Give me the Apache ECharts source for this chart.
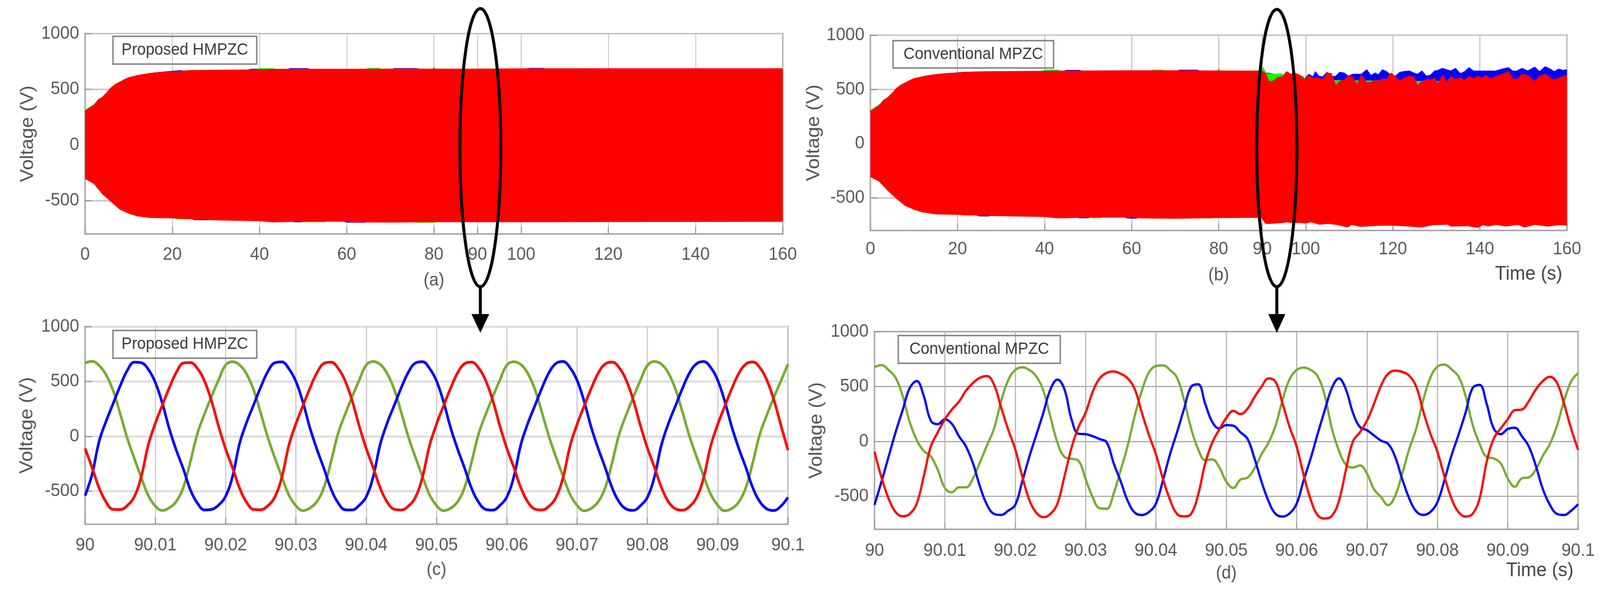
<!DOCTYPE html>
<html>
<head>
<meta charset="utf-8">
<style>html,body{margin:0;padding:0;background:#fff;overflow:hidden}#chart{width:4307px;height:1536px;transform-origin:0 0}</style>
<script src="https://cdn.jsdelivr.net/npm/echarts@6/dist/echarts.min.js"></script>
</head>
<body>
<div id="chart"></div>
<script>
// ---- tick labels ----
const yTicks = [-500, 0, 500, 1000];
const xTicksA = [0, 20, 40, 60, 80, 90, 100, 120, 140, 160];
const xTicksC = [90, 90.01, 90.02, 90.03, 90.04, 90.05, 90.06, 90.07, 90.08, 90.09, 90.1];

// ---- panel (a): envelopes of the three phases, 0..160 s ----
const aUpperT = [0,1,2,3,4,5,6,7,8,9,10,12,14,16,18,20,22,24,26,28,30,34,38,40,44,50,60,70,80,90,100,120,140,160];
const aUpperRed = [304,330,355,405,430,470,515,545,565,587,605,624,638,648,653,657,663,668,669,670,671,673,675,677,680,681,680,682,682,682,684,685,685,685];
const aUpperBlueT = [0,16,17,22,23,37,38,40,41,46,47,51,52,70,71,76,77,100,102,105,106,160];
const aUpperBlue = [300,640,652,668,660,670,680,682,672,672,686,686,675,675,686,686,678,680,688,688,680,680];
const aUpperGreenT = [0,2,3,39,40,43,44,64,65,67.5,68,79.7,80,80.3,81,160];
const aUpperGreen = [310,362,395,670,686,686,675,675,688,688,675,675,700,675,675,680];
const aLowerT = [0,2,4,6,8,10,12,15,20,25,30,40,43,50,60,62,70,80,90,100,160];
const aLowerRed = [-302,-345,-440,-510,-578,-613,-639,-653,-656,-665,-674,-682,-692,-686,-686,-692,-694,-690,-690,-690,-687];
const aLowerBlueT = [0,24,25,28,29,47,48,50,51,59,60,64,65,160];
const aLowerBlue = [-290,-655,-671,-674,-665,-680,-691,-691,-680,-680,-694,-696,-685,-680];
const aLowerGreenT = [0,20,21,23,24,49,50,55,56,75,76,80,81,160];
const aLowerGreen = [-290,-650,-664,-666,-660,-680,-691,-691,-680,-680,-696,-696,-685,-680];

// ---- panel (b): envelopes, 0..160 s ----
const bUpperT = [0,1,2,3,4,5,6,7,8,9,10,12,14,16,18,20,22,24,26,28,30,35,40,44,50,60,70,80,89.8,
  90.2,90.9,91.5,92.4,93.6,94.6,95.6,96.6,97.8,99,
  99.8,100.7,101.7,102.2,103,103.9,104.9,105.9,106.9,107.8,108.8,109.8,110.8,111.8,112.8,114,115,115.9,116.7,117.6,118.6,119.6,120.6,121.6,122.5,123.8,124.8,125.7,126.7,127.7,128.7,129.6,130.4,131.4,132.3,133.3,134.4,135.5,136.5,137.5,138.5,139.5,140.4,141.4,142.4,143.6,145.1,146.6,147.5,148.5,149.7,151,152.6,153.7,155,156.1,157.1,158.1,159.1,160];
const bUpperRed = [300,325,350,400,425,465,510,540,560,582,600,618,632,642,648,652,658,662,663,664,664,666,668,670,671,672,672,671,670,
  664,640,574,574,610,616,664,640,646,622,
  586,628,604,610,604,586,652,646,538,574,586,622,616,544,634,562,568,586,574,598,592,652,616,574,604,622,616,538,574,592,586,604,550,634,568,616,592,610,580,622,598,622,604,628,598,616,640,664,598,592,640,628,574,622,640,610,586,604,622,628];
const bUpperBlueT = [0,16,17,22,23,44,45,48,49,70,71,75,76,89.8,95,99,
  99.8,100.7,101.7,102.2,103,103.9,104.9,105.9,106.9,107.8,108.8,109.8,110.8,111.8,112.8,114,115,115.9,116.7,117.6,118.6,119.6,120.6,121.6,122.5,123.8,124.8,125.7,126.7,127.7,128.7,129.6,130.4,131.4,132.3,133.3,134.4,135.5,136.5,137.5,138.5,139.5,140.4,141.4,142.4,143.6,145.1,146.6,147.5,148.5,149.7,151,152.6,153.7,155,156.1,157.1,158.1,159.1,160];
const bUpperBlue = [290,632,644,660,655,662,676,676,665,665,678,678,665,660,625,600,
  598,640,616,664,622,616,658,616,622,658,652,622,640,640,640,682,628,652,634,682,664,628,622,658,664,670,652,640,670,622,634,670,676,694,682,670,694,646,664,700,670,670,670,670,670,670,688,700,670,670,694,670,706,664,710,688,664,688,676,682];
const bUpperGreenT = [0,2,3,39,40,43,44,64,65,67,68,79.7,80,80.3,89.8,90,90.2,90.9,91.4,94.6,95,99,99.4,99.8,160];
const bUpperGreen = [305,358,390,660,678,678,665,665,678,678,665,665,690,665,668,672,701,650,642,642,600,590,625,585,560];
const bLowerT = [0,2,4,6,8,10,12,15,20,25,30,40,43,50,60,62,70,80,89.8,90.7,91.4,94.9,95.4,96.8,99,99.8,101.2,103.2,105.2,107.1,109.6,110.5,112.5,116.4,119.4,122.3,126.7,129.2,132.6,133.3,137,139.5,140.7,141.9,143.9,145.8,148.8,150.2,152.7,155.6,158.1,160];
const bLowerRed = [-305,-345,-430,-505,-570,-605,-630,-648,-652,-660,-665,-672,-685,-678,-678,-685,-688,-682,-679,-733,-737,-727,-721,-727,-727,-733,-721,-743,-735,-745,-769,-745,-763,-754,-751,-757,-769,-748,-743,-760,-757,-772,-748,-760,-745,-760,-745,-769,-745,-760,-748,-751];
const bLowerBlueT = [0,24,25,27,28,47,48,50,51,58,59,61,62,89.8];
const bLowerBlue = [-290,-655,-666,-668,-660,-672,-684,-684,-672,-672,-686,-688,-678,-670];
const bLowerGreenT = [0,20,21,23,24,50,51,53,54,74,75,78,79,89.8];
const bLowerGreen = [-290,-645,-658,-660,-655,-672,-684,-684,-672,-672,-686,-686,-676,-670];

// ---- panel (c): phase voltages every 1 ms from 90 s ----
const cBlue = [-540,-345,-45,140,300,460,600,675,670,610,490,300,65,-130,-300,-490,-610,-670,-665,-625,
 -545,-360,-60,130,290,450,590,670,678,615,500,310,75,-120,-295,-480,-605,-668,-670,-628,
 -550,-365,-70,125,285,445,585,668,680,620,505,315,80,-115,-290,-475,-600,-665,-672,-630,
 -552,-368,-75,120,280,440,580,665,682,625,510,320,85,-110,-285,-470,-598,-662,-674,-632,
 -555,-370,-78,118,278,438,578,662,682,628,512,322,88,-108,-282,-468,-595,-660,-675,-635,-555];
const cGreen = [668,683,645,560,415,205,-15,-200,-375,-540,-635,-675,-650,-590,-460,-225,30,205,365,515,
 650,680,650,565,420,210,-10,-195,-370,-535,-632,-676,-652,-592,-462,-228,28,202,362,512,
 650,682,655,570,425,215,-5,-190,-365,-530,-630,-676,-655,-595,-465,-232,25,200,360,510,
 648,680,655,572,428,218,-2,-188,-362,-528,-628,-678,-656,-596,-468,-235,22,198,358,508,
 646,682,658,575,430,220,0,-185,-360,-525,-626,-678,-658,-598,-470,-238,20,195,355,505,658];
const cRed = [-110,-285,-470,-600,-665,-667,-630,-550,-365,-75,120,285,445,585,668,672,617,502,320,90,
 -115,-290,-475,-602,-666,-668,-632,-552,-370,-80,115,280,440,580,665,675,620,505,325,95,
 -110,-285,-470,-600,-664,-670,-635,-555,-372,-85,112,278,438,578,662,676,622,508,328,98,
 -108,-282,-468,-598,-662,-670,-636,-556,-375,-88,110,275,435,575,660,676,624,510,330,100,
 -105,-280,-465,-596,-660,-672,-638,-558,-378,-90,108,272,432,572,658,678,626,512,332,102,-125];

// ---- panel (d): phase voltages every 1 ms from 90 s ----
const dBlue = [-578,-365,-140,84,285,486,550,415,190,157,202,160,48,-46,-200,-412,-578,-660,-669,-631,
 -578,-365,-140,60,261,474,563,474,202,70,66,48,22,-8,-200,-365,-543,-649,-670,-643,
 -566,-353,-117,84,297,498,521,344,178,119,149,143,84,25,-152,-365,-543,-660,-684,-655,
 -566,-353,-152,72,285,486,574,474,261,131,102,54,7,-22,-141,-342,-519,-637,-669,-643,
 -554,-353,-129,60,261,486,515,344,119,66,113,125,48,-46,-223,-436,-578,-660,-670,-631,-572];
const dRed = [-93,-330,-519,-643,-682,-660,-566,-318,-46,84,202,291,362,462,533,580,595,515,309,108,
 -70,-318,-531,-649,-690,-660,-566,-318,-58,131,261,450,574,625,637,616,574,474,261,60,
 -117,-342,-531,-660,-682,-660,-484,-200,-11,108,214,279,249,297,403,498,574,544,344,131,
 -46,-306,-531,-673,-702,-679,-543,-259,1,84,190,344,509,616,645,634,598,498,273,72,
 -93,-318,-519,-643,-684,-660,-519,-188,25,119,202,285,291,368,474,551,589,533,344,119,-76];
const dGreen = [677,695,651,580,415,178,13,-87,-135,-259,-424,-463,-418,-418,-336,-188,-34,119,368,557,
 651,675,651,592,462,226,-11,-141,-158,-176,-342,-507,-608,-613,-472,-259,-34,238,462,628,
 687,693,651,580,379,119,-70,-170,-164,-235,-365,-424,-348,-330,-247,-117,-11,143,379,568,
 651,673,651,592,415,119,-82,-212,-238,-218,-294,-436,-507,-580,-495,-294,-70,119,379,580,
 681,699,657,592,415,155,-22,-141,-155,-200,-336,-413,-336,-327,-253,-129,-22,143,368,545,622];

// ---- series colours ----
const RED = '#ff0000', BLUE = '#0000ff', ENV_GREEN = '#00ff00', WAVE_GREEN = '#77ac30';
const FONT = '"Liberation Sans", Arial, sans-serif';
const msTime = i => 90 + i / 1000;

function zip(ts, vs) { return ts.map((t, i) => [t, vs[i]]); }
function wave(vs) { return vs.map((v, i) => [msTime(i), v]); }

const panels = [
  { left: 229,  top: 86,  width: 1878, height: 513, min: 0,  max: 160, ticks: xTicksA, name: '(a)', gap: 96,  lm: 30, yGap: 129, hLine: '#c8c8c8', hW: 4, vLine: '#bdbdbd', vW: 2 },
  { left: 2343, top: 90,  width: 1875, height: 500, min: 0,  max: 160, ticks: xTicksA, name: '(b)', gap: 92,  lm: 25, yGap: 127, hLine: '#c8c8c8', hW: 4, vLine: '#c4c4c4', vW: 3 },
  { left: 229,  top: 836, width: 1892, height: 506, min: 90, max: 90.1, ticks: xTicksC, name: '(c)', gap: 94, lm: 31, yGap: 131, hLine: '#dcdcdc', hW: 5, vLine: '#c8c8c8', vW: 3 },
  { left: 2354, top: 849, width: 1894, height: 506, min: 90, max: 90.1, ticks: xTicksC, name: '(d)', gap: 90, lm: 32, yGap: 131, hLine: '#ababab', hW: 3, vLine: '#b4b4b4', vW: 3 }
];

const grid = panels.map(p => ({
  left: p.left, top: p.top, width: p.width, height: p.height,
  show: true, backgroundColor: '#fff', borderColor: '#a8a8a8', borderWidth: 4
}));
const xAxis = panels.map((p, i) => ({
  type: 'value', gridIndex: i, min: p.min, max: p.max,
  name: p.name, nameLocation: 'middle', nameGap: p.gap, nameMoveOverlap: false,
  nameTextStyle: { fontFamily: FONT, fontSize: 46, color: '#555' },
  axisLine: { show: true, onZero: false, lineStyle: { color: '#a8a8a8', width: 4 } },
  axisTick: { show: true, inside: true, length: 18, customValues: p.ticks, lineStyle: { color: '#999', width: 3 } },
  splitLine: { show: true, lineStyle: { color: p.vLine, width: p.vW } },
  axisLabel: { show: true, customValues: p.ticks, margin: p.lm, hideOverlap: false, showMinLabel: true, showMaxLabel: true,
    fontFamily: FONT, fontSize: 46, color: '#5a5a5a',
    formatter: v => String(+(+v).toFixed(2)) }
}));
const yAxis = panels.map((p, i) => ({
  type: 'value', gridIndex: i, min: -800, max: 1000,
  name: 'Voltage (V)', nameLocation: 'middle', nameGap: p.yGap, nameRotate: 90, nameMoveOverlap: false,
  nameTextStyle: { fontFamily: FONT, fontSize: 50, color: '#555' },
  axisLine: { show: true, lineStyle: { color: '#a8a8a8', width: 4 } },
  axisTick: { show: true, inside: true, length: 18, customValues: yTicks, lineStyle: { color: '#999', width: 3 } },
  splitLine: { show: true, lineStyle: { color: p.hLine, width: p.hW } },
  axisLabel: { show: true, customValues: yTicks, margin: 16, fontFamily: FONT, fontSize: 46, color: '#5a5a5a',
    formatter: v => String(v) }
}));

function band(idx, color, data, z) {
  return { type: 'line', xAxisIndex: idx, yAxisIndex: idx, data, showSymbol: false, z,
    lineStyle: { color, width: 2 }, itemStyle: { color },
    areaStyle: { color, opacity: 1, origin: 0 }, silent: true };
}
function curve(idx, color, data, z, w) {
  return { type: 'line', xAxisIndex: idx, yAxisIndex: idx, data, showSymbol: false, z, smooth: 0.4,
    lineStyle: { color, width: w }, itemStyle: { color }, silent: true };
}
const series = [
  band(0, BLUE, zip(aUpperBlueT, aUpperBlue), 2),
  band(0, BLUE, zip(aLowerBlueT, aLowerBlue), 2),
  band(0, ENV_GREEN, zip(aUpperGreenT, aUpperGreen), 3),
  band(0, ENV_GREEN, zip(aLowerGreenT, aLowerGreen), 3),
  band(0, RED, zip(aUpperT, aUpperRed), 4),
  band(0, RED, zip(aLowerT, aLowerRed), 4),
  band(1, BLUE, zip(bUpperBlueT, bUpperBlue), 2),
  band(1, BLUE, zip(bLowerBlueT, bLowerBlue), 2),
  band(1, ENV_GREEN, zip(bUpperGreenT, bUpperGreen), 3),
  band(1, ENV_GREEN, zip(bLowerGreenT, bLowerGreen), 3),
  band(1, RED, zip(bUpperT, bUpperRed), 4),
  band(1, RED, zip(bLowerT, bLowerRed), 4),
  curve(2, WAVE_GREEN, wave(cGreen), 2, 7),
  curve(2, BLUE, wave(cBlue), 3, 7),
  curve(2, RED, wave(cRed), 4, 7),
  curve(3, WAVE_GREEN, wave(dGreen), 2, 6),
  curve(3, BLUE, wave(dBlue), 3, 6),
  curve(3, RED, wave(dRed), 4, 6)
];

// ---- annotations: method boxes, zoom ellipses, arrows, axis caption ----
function noteBox(x, y, w, h, text) {
  return [
    { type: 'rect', z: 50, shape: { x, y, width: w, height: h },
      style: { fill: 'rgba(255,255,255,0)', stroke: '#8a8a8a', lineWidth: 4 } },
    { type: 'text', z: 51, style: { text, x: x + w / 2, y: y + h / 2, textAlign: 'center', textVerticalAlign: 'middle',
      font: '42px ' + FONT, fill: '#3a3a3a' } }
  ];
}
function zoomMark(cx, rx, cy, ry, ax, top, tip, hw) {
  return [
    { type: 'ellipse', z: 60, shape: { cx, cy, rx, ry }, style: { fill: 'rgba(0,0,0,0)', stroke: '#000', lineWidth: 8 } },
    { type: 'line', z: 60, shape: { x1: ax, y1: cy + ry, x2: ax, y2: top + 5 }, style: { stroke: '#000', lineWidth: 8 } },
    { type: 'polygon', z: 60, shape: { points: [[ax - hw, top], [ax + hw, top], [ax, tip]] }, style: { fill: '#000' } }
  ];
}
function caption(x, y, text) {
  return { type: 'text', z: 51, style: { text, x, y, textAlign: 'center', textVerticalAlign: 'middle',
    font: '50px ' + FONT, fill: '#444' } };
}
const elements = [].concat(
  noteBox(304, 93, 387, 71, 'Proposed HMPZC'),
  noteBox(2404, 104, 432, 70, 'Conventional MPZC'),
  noteBox(304, 846, 387, 71, 'Proposed HMPZC'),
  noteBox(2418, 859, 436, 71, 'Conventional MPZC'),
  zoomMark(1293, 55, 378, 356, 1293, 804, 852, 24),
  zoomMark(3437, 54, 379, 355, 3437, 804, 852, 23),
  [caption(4115, 702, 'Time (s)'), caption(4145, 1461, 'Time (s)')]
);

// The figure is laid out at 4307 wide. The window can be narrower than it was
// asked to be (4096 has been seen), so squeeze horizontally to keep all of it on view.
const el = document.getElementById('chart');
const fit = Math.min(1, window.innerWidth / 4307);
el.style.transform = 'scaleX(' + fit + ')';

const chart = echarts.init(el, null, { renderer: 'canvas', width: 4307, height: 1536 });
chart.setOption({
  animation: false,
  backgroundColor: '#fff',
  grid, xAxis, yAxis, series,
  graphic: { elements }
});
</script>
</body>
</html>
